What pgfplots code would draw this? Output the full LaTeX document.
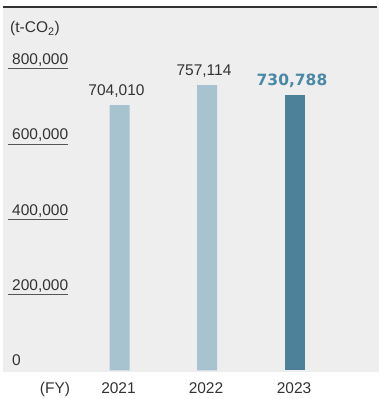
\documentclass[border=0pt]{standalone}
\usepackage{pgfplots}
\pgfplotsset{compat=1.18}
\usepackage{fontspec}
\setmainfont{Liberation Sans}
\newfontfamily\heavy{DejaVu Sans}
\definecolor{bg}{HTML}{EEEEEE}
\definecolor{lightbar}{HTML}{A7C3CF}
\definecolor{darkbar}{HTML}{4D8099}
\definecolor{hl}{HTML}{4A88A6}
\definecolor{txt}{HTML}{333333}
\definecolor{rule}{HTML}{555555}
\begin{document}
\fontsize{15.5bp}{18bp}\selectfont
\begin{tikzpicture}
\useasboundingbox (0,0) rectangle (379bp,399bp);
\begin{axis}[
  at={(3bp,27bp)}, anchor=south west,
  width=376bp, height=365bp, scale only axis,
  xmin=3, xmax=379, ymin=-4500, ymax=964400,
  axis line style={draw=none},
  axis background/.style={fill=bg},
  clip=false,
  ytick=\empty,
  xtick={119.5,207,295}, xticklabels={2021,2022,2023},
  major tick length=0pt,
  xticklabel style={anchor=base, yshift=-21.5bp, xshift=-1bp, text=txt},
  ybar, bar width=20, bar shift=0pt,
  /pgf/number format/fixed,
  /pgf/number format/precision=0,
  /pgf/number format/1000 sep={,},
  /pgf/number format/assume math mode=true,
]
\addplot[fill=lightbar, draw=none, nodes near coords,
  nodes near coords style={anchor=base, yshift=9.5bp, xshift=-3bp, text=txt, inner sep=0pt}]
  coordinates {(119.5,704010) (207,757114)};
\addplot[fill=darkbar, draw=none, nodes near coords,
  nodes near coords style={anchor=base, yshift=10bp, xshift=-3bp, text=hl, inner sep=0pt, font=\heavy\bfseries}]
  coordinates {(295,730788)};

% top rule
\draw[txt, line width=2bp] (axis cs:3,964400) -- (axis cs:377,964400);

% value axis labels with short rules
\draw[rule, line width=1bp] (axis cs:8,800000) -- (axis cs:68,800000);
\draw[rule, line width=1bp] (axis cs:8,600000) -- (axis cs:68,600000);
\draw[rule, line width=1bp] (axis cs:8,400000) -- (axis cs:68,400000);
\draw[rule, line width=1bp] (axis cs:8,200000) -- (axis cs:68,200000);
\node[anchor=base west, inner sep=0pt, text=txt, yshift=4.5bp] at (axis cs:12,800000) {800,000};
\node[anchor=base west, inner sep=0pt, text=txt, yshift=4.5bp] at (axis cs:12,600000) {600,000};
\node[anchor=base west, inner sep=0pt, text=txt, yshift=4.5bp] at (axis cs:12,400000) {400,000};
\node[anchor=base west, inner sep=0pt, text=txt, yshift=4.5bp] at (axis cs:12,200000) {200,000};
\node[anchor=base west, inner sep=0pt, text=txt, yshift=4.8bp] at (axis cs:12,0) {0};

\node[anchor=base west, inner sep=0pt, text=txt] at (axis cs:10,895400) {(t-CO\textsubscript{2})};
\node[anchor=base, inner sep=0pt, text=txt, yshift=-21.5bp] at (axis cs:55,-4500) {(FY)};
\end{axis}
\end{tikzpicture}
\end{document}
